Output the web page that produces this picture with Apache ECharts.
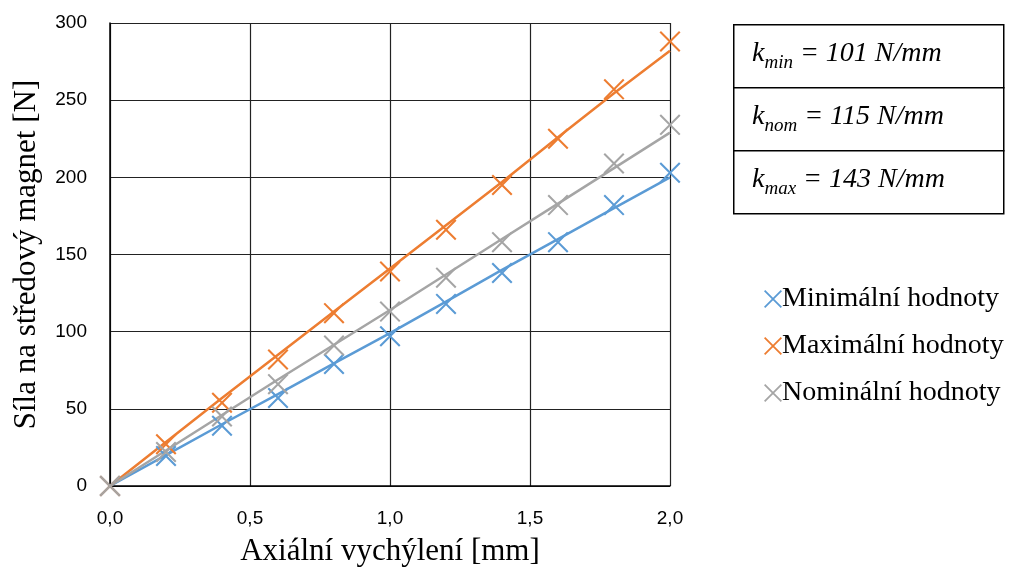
<!DOCTYPE html>
<html>
<head>
<meta charset="utf-8">
<script src="https://cdn.jsdelivr.net/npm/echarts@6/dist/echarts.min.js"></script>
<style>html,body{margin:0;padding:0;background:#fff}#c{width:1015px;height:572px}</style>
</head>
<body>
<div id="c"></div>
<script>
// ---- data ----
var xValues = [0, 0.2, 0.4, 0.6, 0.8, 1.0, 1.2, 1.4, 1.6, 1.8, 2.0];
var minMeasured = [0, 19.5, 39, 57, 79, 97, 118, 138, 158, 182, 203];
var maxMeasured = [0, 27, 54, 82, 112, 139, 166, 195, 225, 257, 288];
var nomMeasured = [0, 22, 45, 66, 91, 113, 135, 158, 182, 209, 234];
var minLine = [0, 20, 40, 59.5, 79.5, 99, 119.5, 140, 160, 180, 200];
var maxLine = [0, 28.5, 57, 85, 113, 141, 169, 197, 226, 254.5, 282];
var nomLine = [0, 23, 46, 69, 91.5, 114, 137, 160, 183, 206, 229];
var seriesNames = ['Minimální hodnoty', 'Maximální hodnoty', 'Nominální hodnoty'];
var stiffness = [['min', '101'], ['nom', '115'], ['max', '143']];
var yTicks = { min: 0, max: 300, interval: 50 };
var xTicks = { min: 0, max: 2, interval: 0.5 };

var colors = ['#5B9BD5', '#ED7D31', '#A5A5A5'];
var xSym = 'path://M0,0.7L0.7,0L10,9.3L9.3,10Z M9.3,0L10,0.7L0.7,10L0,9.3Z';

function pairs(ys) { return xValues.map(function (x, i) { return [x, ys[i]]; }); }

var lines = [minLine, maxLine, nomLine];
var marks = [minMeasured, maxMeasured, nomMeasured];
var series = [];
lines.forEach(function (l, i) {
  series.push({
    type: 'line', name: seriesNames[i] + ' (fit)', data: pairs(l), showSymbol: false, symbol: 'none',
    lineStyle: { color: colors[i], width: 2.5 }, itemStyle: { color: colors[i] }, z: 3, silent: true
  });
});
marks.forEach(function (m, i) {
  series.push({
    type: 'scatter', name: seriesNames[i], data: pairs(m), symbol: xSym, symbolSize: 21,
    itemStyle: { color: colors[i], opacity: 1 }, z: 4
  });
});

var serif = '"Liberation Serif", "DejaVu Serif", serif';
var graphics = [];
var boxTop = 24, rowH = 63, boxLeft = 733, boxW = 270;
stiffness.forEach(function (s, i) {
  graphics.push({
    type: 'rect', left: boxLeft, top: boxTop + i * rowH,
    shape: { width: boxW, height: rowH },
    style: { fill: '#fff', stroke: '#000', lineWidth: 1.5 }
  });
  graphics.push({
    type: 'text', left: 752, top: boxTop + i * rowH + 16,
    style: {
      text: '{k|k}{s|' + s[0] + '}{t| = ' + s[1] + ' N/mm}',
      rich: {
        k: { fontFamily: serif, fontStyle: 'italic', fontSize: 28, lineHeight: 36, verticalAlign: 'middle', fill: '#000' },
        s: { fontFamily: serif, fontStyle: 'italic', fontSize: 19, lineHeight: 18, verticalAlign: 'bottom', fill: '#000' },
        t: { fontFamily: serif, fontStyle: 'italic', fontSize: 28, lineHeight: 36, verticalAlign: 'middle', fill: '#000' }
      }
    }
  });
});

var chart = echarts.init(document.getElementById('c'), null, { renderer: 'canvas' });
chart.setOption({
  animation: false,
  backgroundColor: '#fff',
  grid: { left: 110, right: 345, top: 23, bottom: 86, containLabel: false, outerBoundsMode: 'none' },
  xAxis: {
    type: 'value', min: xTicks.min, max: xTicks.max, interval: xTicks.interval,
    name: 'Axiální vychýlení [mm]', nameLocation: 'middle', nameGap: 50,
    nameTextStyle: { fontFamily: serif, fontSize: 31, color: '#000' },
    axisLine: { show: true, lineStyle: { color: '#000', width: 1.5 } },
    axisTick: { show: false },
    axisLabel: { margin: 23, fontFamily: '"Liberation Sans", Arial, sans-serif', fontSize: 19, color: '#000',
      formatter: function (v) { return v.toFixed(1).replace('.', ','); } },
    splitLine: { show: true, lineStyle: { color: '#222', width: 1.2 } }
  },
  yAxis: {
    type: 'value', min: yTicks.min, max: yTicks.max, interval: yTicks.interval,
    name: 'Síla na středový magnet [N]', nameLocation: 'middle', nameGap: 68,
    nameTextStyle: { fontFamily: serif, fontSize: 31, color: '#000' },
    axisLine: { show: true, lineStyle: { color: '#000', width: 1.5 } },
    axisTick: { show: false },
    axisLabel: { margin: 23, fontFamily: '"Liberation Sans", Arial, sans-serif', fontSize: 19, color: '#000' },
    splitLine: { show: true, lineStyle: { color: '#222', width: 1.2 } }
  },
  legend: {
    data: seriesNames, orient: 'vertical', left: 759, top: 279,
    itemWidth: 18, itemHeight: 18, itemGap: 17,
    textStyle: { fontFamily: serif, fontSize: 28, lineHeight: 30, color: '#000', padding: [0, 0, 0, -5] },
    selectedMode: false
  },
  series: series,
  graphic: graphics
});
</script>
</body>
</html>
